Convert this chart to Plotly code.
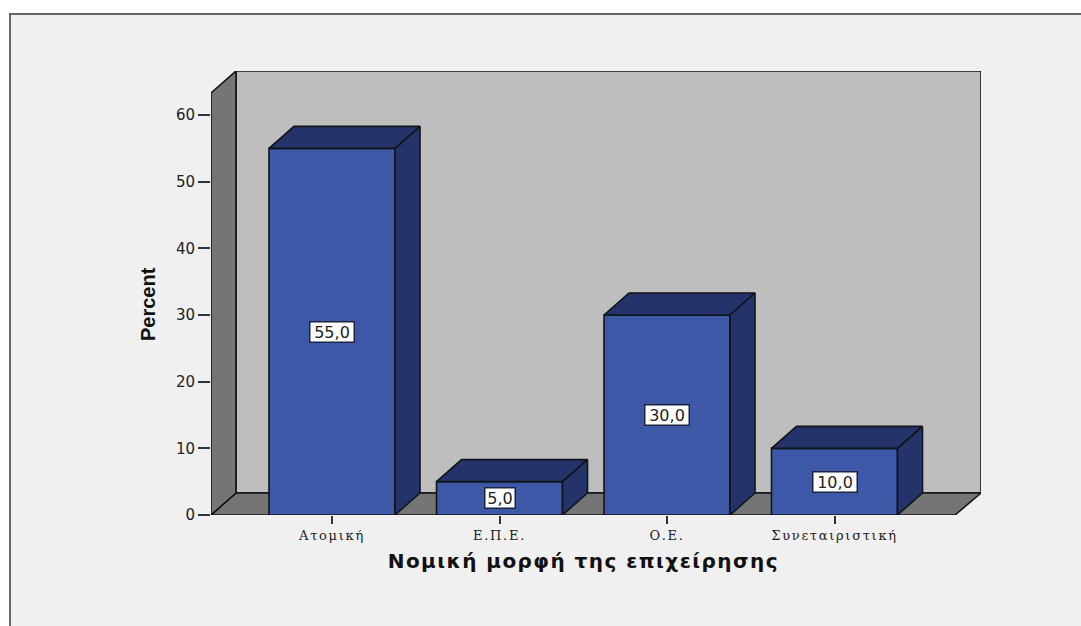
import plotly.graph_objects as go

categories = ["Ατομική", "Ε.Π.Ε.", "Ο.Ε.", "Συνεταιριστική"]
percent = [55.0, 5.0, 30.0, 10.0]
value_labels = ["55,0", "5,0", "30,0", "10,0"]
y_ticks = [0, 10, 20, 30, 40, 50, 60]
x_title = "Νομική μορφή της επιχείρησης"
y_title = "Percent"

W, H = 1081, 626
L, R, T, B = 211, 981, 71, 515       # plot box in pixels
UX = 167.5                           # pixels per category
UY = 400 / 60                        # pixels per percent
X0 = (211 - 332) / UX                # axis start
X1 = X0 + (R - L) / UX
Y1 = (B - T) / UY
DX = 25 / UX                         # 3-D depth in data units
DY = 22 / UY
FLOOR_R = X0 + (955 - 211) / UX      # front right of floor
WALL_TOP = (515 - 93) / UY           # front top of left wall
BAR_W = 126 / UX

FRONT, DARK, WALL, FLOOR, EDGE = "#3e58a8", "#24346a", "#bebebe", "#757575", "#101418"


def poly(xs, ys, fill):
    path = "M" + " L".join(f"{a},{b}" for a, b in zip(xs, ys)) + " Z"
    return dict(type="path", path=path, xref="x", yref="y", layer="below",
                fillcolor=fill, line=dict(color=EDGE, width=1.6))


fig = go.Figure()

fig.add_trace(go.Bar(x=list(range(len(categories))), y=percent, width=BAR_W,
                     marker=dict(color=FRONT, line=dict(color=EDGE, width=1.6)),
                     showlegend=False, hoverinfo="skip"))

for i, v in enumerate(percent):
    a, b = i - BAR_W / 2, i + BAR_W / 2
    fig.add_trace(go.Scatter(x=[a, a + DX, b + DX, b, a], y=[v, v + DY, v + DY, v, v],
                             mode="lines", fill="toself", fillcolor=DARK,
                             line=dict(color=EDGE, width=1.6), showlegend=False, hoverinfo="skip"))
    fig.add_trace(go.Scatter(x=[b, b + DX, b + DX, b, b], y=[v, v + DY, DY, 0, v],
                             mode="lines", fill="toself", fillcolor=DARK,
                             line=dict(color=EDGE, width=1.6), showlegend=False, hoverinfo="skip"))

annotations = [
    dict(x=i, y=v / 2, text=t, showarrow=False, bgcolor="white", bordercolor="#1c2340",
         borderwidth=1.5, borderpad=1, width=(27 if len(t) == 3 else 41), height=17,
         font=dict(family="DejaVu Sans", size=16, color="#222"))
    for i, (v, t) in enumerate(zip(percent, value_labels))
]
annotations.append(dict(
    x=(X0 + FLOOR_R) / 2, xref="x", y=(B - 561) / (B - T), yref="paper", text=f"<b>{x_title}</b>",
    xanchor="center", yanchor="middle",
    showarrow=False, font=dict(family="DejaVu Sans", size=20, color="#111"),
))
annotations.append(dict(
    x=(148 - L) / (R - L), xref="paper", y=(B - 304) / (B - T), yref="paper", text=f"<b>{y_title}</b>",
    xanchor="center", yanchor="middle",
    textangle=-90, showarrow=False, font=dict(family="Liberation Sans", size=20, color="#111"),
))

shapes = [
    # chart frame
    dict(type="rect", xref="paper", yref="paper", layer="below",
         x0=(10 - L) / (R - L), x1=(W + 20 - L) / (R - L),
         y0=(B - (H + 20)) / (B - T), y1=(B - 14) / (B - T),
         fillcolor="#f0f0f0", line=dict(color="#666666", width=2)),
    poly([X0 + DX, X1, X1, X0 + DX], [DY, DY, Y1, Y1], WALL),
    poly([X0, X0 + DX, X1, FLOOR_R], [0, DY, DY, 0], FLOOR),
    poly([X0, X0 + DX, X0 + DX, X0], [0, DY, Y1, WALL_TOP], FLOOR),
]

fig.update_layout(
    width=W, height=H, autosize=False,
    margin=dict(l=L, r=W - R, t=T, b=H - B),
    paper_bgcolor="white", plot_bgcolor="rgba(0,0,0,0)",
    showlegend=False, shapes=shapes, annotations=annotations,
    xaxis=dict(range=[X0, X1], tickmode="array", tickvals=list(range(len(categories))),
               ticktext=categories, showgrid=False, zeroline=False, showline=False,
               ticks="outside", ticklen=8, tickwidth=2, tickcolor="#333",
               tickfont=dict(family="DejaVu Serif", size=13, color="#222")),
    yaxis=dict(range=[0, Y1], tickmode="array", tickvals=y_ticks, showgrid=False,
               zeroline=False, showline=False, ticks="outside", ticklen=12, tickwidth=2,
               tickcolor="#333", tickfont=dict(family="DejaVu Sans", size=15, color="#222")),
)

post = """
document.documentElement.style.overflow = 'hidden';
document.body.style.margin = '0';
var s = document.createElement('style');
s.textContent = '.xtick text{letter-spacing:1.7px} g.annotation[data-index="4"] text{letter-spacing:1.45px}';
document.head.appendChild(s);
"""
fig.write_html("out.html", config=dict(displayModeBar=False), post_script=post)
